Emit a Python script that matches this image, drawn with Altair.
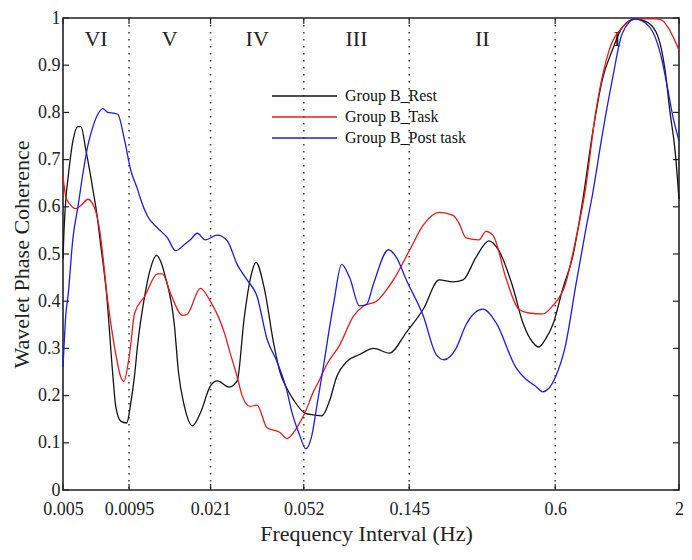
import altair as alt
import pandas as pd

series_names = ["Group B_Rest", "Group B_Task", "Group B_Post task"]
series_colors = ["#141414", "#f01818", "#1c1ce6"]

rest_freq = [0.005, 0.00505, 0.005147, 0.005248, 0.005508, 0.005781, 0.005952, 0.006247, 0.006685, 0.007016,
             0.007154, 0.007655, 0.008113, 0.008352, 0.008766, 0.00929, 0.009657, 0.01004, 0.01033, 0.01106,
             0.01172, 0.01242, 0.01291, 0.01342, 0.01478, 0.01537, 0.01629, 0.0176, 0.01902, 0.02095,
             0.02242, 0.02518, 0.0272, 0.02911, 0.03085, 0.0327, 0.03533, 0.03892, 0.04125, 0.04414,
             0.04723, 0.05254, 0.05732, 0.06194, 0.06692, 0.07161, 0.07889, 0.08947, 0.1025, 0.1196,
             0.141, 0.1662, 0.1941, 0.2222, 0.2448, 0.2776, 0.3149, 0.3469, 0.3972, 0.4376,
             0.482, 0.5109, 0.5467, 0.5907, 0.6445, 0.71, 0.7821, 0.8616, 0.9492, 1.046,
             1.152, 1.306, 1.481, 1.632, 1.746, 1.833, 1.924, 2.0]
rest_coh = [0.49, 0.55, 0.62, 0.66, 0.74, 0.77, 0.77, 0.72, 0.637, 0.57,
            0.534, 0.41, 0.245, 0.177, 0.146, 0.142, 0.183, 0.245, 0.307, 0.41,
            0.47, 0.497, 0.485, 0.458, 0.348, 0.25, 0.177, 0.136, 0.163, 0.22,
            0.231, 0.218, 0.231, 0.363, 0.445, 0.482, 0.43, 0.307, 0.25, 0.215,
            0.19, 0.163, 0.159, 0.157, 0.19, 0.24, 0.272, 0.287, 0.30, 0.29,
            0.334, 0.383, 0.445, 0.441, 0.445, 0.493, 0.528, 0.507, 0.43, 0.355,
            0.313, 0.303, 0.32, 0.355, 0.425, 0.493, 0.61, 0.754, 0.87, 0.932,
            0.98, 0.998, 0.99, 0.96, 0.89, 0.80, 0.72, 0.616]

task_freq = [0.005, 0.005147, 0.005351, 0.00567, 0.006009, 0.006369, 0.006816, 0.007154, 0.007729, 0.008272,
             0.008766, 0.009024, 0.009564, 0.01004, 0.01106, 0.01254, 0.01316, 0.01422, 0.01598, 0.01677,
             0.01902, 0.02095, 0.02399, 0.02542, 0.0272, 0.02855, 0.03085, 0.03302, 0.03637, 0.04125,
             0.04414, 0.04862, 0.05254, 0.05732, 0.06016, 0.06501, 0.07372, 0.08442, 0.093, 0.1055,
             0.1243, 0.1452, 0.1662, 0.1941, 0.2222, 0.2355, 0.252, 0.2858, 0.3059, 0.3273,
             0.3712, 0.421, 0.4637, 0.531, 0.585, 0.6634, 0.7309, 0.8051, 0.887, 1.006,
             1.152, 1.332, 1.585, 1.696, 1.798, 2.0]
task_coh = [0.664, 0.62, 0.605, 0.596, 0.605, 0.616, 0.596, 0.548, 0.40, 0.30,
            0.24, 0.23, 0.29, 0.375, 0.41, 0.458, 0.458, 0.417, 0.37, 0.373,
            0.427, 0.40, 0.334, 0.29, 0.24, 0.20, 0.177, 0.18, 0.132, 0.122,
            0.109, 0.132, 0.163, 0.21, 0.23, 0.266, 0.307, 0.369, 0.39, 0.40,
            0.445, 0.507, 0.561, 0.588, 0.582, 0.565, 0.534, 0.53, 0.548, 0.54,
            0.45, 0.383, 0.375, 0.373, 0.39, 0.437, 0.528, 0.637, 0.796, 0.926,
            0.98, 0.998, 0.998, 0.995, 0.98, 0.932]

post_freq = [0.005, 0.005147, 0.005248, 0.005508, 0.005781, 0.006068, 0.006369, 0.006557, 0.007016, 0.007364,
             0.007729, 0.008272, 0.008515, 0.009112, 0.009657, 0.01033, 0.01064, 0.01138, 0.01254, 0.01382,
             0.01493, 0.01629, 0.01726, 0.01847, 0.01996, 0.02242, 0.0247, 0.0272, 0.02997, 0.03302,
             0.03637, 0.04007, 0.04414, 0.04633, 0.05006, 0.05305, 0.05622, 0.05901, 0.06194, 0.06956,
             0.07516, 0.08122, 0.08947, 0.09574, 0.1025, 0.1185, 0.128, 0.141, 0.1662, 0.1885,
             0.2037, 0.2288, 0.252, 0.2971, 0.3369, 0.4089, 0.4505, 0.4962, 0.531, 0.5628,
             0.6022, 0.6634, 0.7309, 0.8051, 0.8616, 0.9492, 1.046, 1.152, 1.306, 1.439,
             1.585, 1.696, 1.781, 1.887, 2.0]
post_coh = [0.26, 0.375, 0.41, 0.534, 0.60, 0.67, 0.73, 0.755, 0.796, 0.808,
            0.80, 0.798, 0.796, 0.74, 0.678, 0.637, 0.616, 0.58, 0.555, 0.534,
            0.507, 0.52, 0.53, 0.544, 0.53, 0.54, 0.528, 0.478, 0.445, 0.41,
            0.32, 0.272, 0.21, 0.165, 0.115, 0.087, 0.115, 0.177, 0.24, 0.396,
            0.478, 0.45, 0.39, 0.393, 0.437, 0.509, 0.493, 0.445, 0.369, 0.287,
            0.276, 0.30, 0.35, 0.383, 0.355, 0.26, 0.235, 0.22, 0.208, 0.215,
            0.24, 0.307, 0.43, 0.548, 0.625, 0.754, 0.87, 0.967, 0.998, 0.99,
            0.96, 0.91, 0.857, 0.79, 0.74]

x_ticks = [0.005, 0.0095, 0.021, 0.052, 0.145, 0.6, 2]
band_edges = [0.0095, 0.021, 0.052, 0.145, 0.6]
band_names = ["VI", "V", "IV", "III", "II", "I"]
band_centers = [0.006892, 0.01412, 0.03305, 0.08683, 0.295, 1.095]
y_ticks = [0, 0.1, 0.2, 0.3, 0.4, 0.5, 0.6, 0.7, 0.8, 0.9, 1]

FONT = "Liberation Serif"
W, H = 616, 472

frames = []
for name, fr, co in [(series_names[0], rest_freq, rest_coh),
                     (series_names[1], task_freq, task_coh),
                     (series_names[2], post_freq, post_coh)]:
    d = pd.DataFrame({"f": fr, "c": co})
    d["series"] = name
    frames.append(d)
df = pd.concat(frames, ignore_index=True)
df["k"] = range(len(df))

x_scale = alt.Scale(type="log", domain=[0.005, 2], nice=False, zero=False)
y_scale = alt.Scale(domain=[0, 1], nice=False, zero=False)
x_axis = alt.Axis(values=x_ticks, format="~g", labelPadding=10, labelFlush=False, labelOverlap=False,
                  title="Frequency Interval (Hz)", titleX=303, titleY=50, titleBaseline="alphabetic",
                  titleAlign="center")
y_axis = alt.Axis(values=y_ticks, format="~g", labelPadding=3, labelFlush=False, labelOverlap=False,
                  title="Wavelet Phase Coherence", titleX=-35, titleY=H / 2, titleAngle=-90,
                  titleBaseline="alphabetic", titleAlign="center")
x_enc = alt.X("f:Q", scale=x_scale, axis=x_axis)
y_enc = alt.Y("c:Q", scale=y_scale, axis=y_axis)
color_enc = alt.Color("series:N", scale=alt.Scale(domain=series_names, range=series_colors), legend=None)

lines = alt.Chart(df).mark_line(strokeWidth=1.3, interpolate="monotone").encode(
    x=x_enc, y=y_enc, color=color_enc, order="k:Q")

edges_df = pd.DataFrame({"f": band_edges})
dotted = alt.Chart(edges_df).mark_rule(color="#444", strokeWidth=1.6, strokeDash=[1.6, 5.4]).encode(
    x=x_enc, y=alt.value(0), y2=alt.value(H))

xt_df = pd.DataFrame({"f": x_ticks})
xt_bottom = alt.Chart(xt_df).mark_rule(color="#222", strokeWidth=1.2).encode(
    x=x_enc, y=alt.value(H), y2=alt.value(H - 6))
xt_top = alt.Chart(xt_df).mark_rule(color="#222", strokeWidth=1.2).encode(
    x=x_enc, y=alt.value(0), y2=alt.value(6))

yt_df = pd.DataFrame({"c": y_ticks})
yt_left = alt.Chart(yt_df).mark_rule(color="#222", strokeWidth=1.2).encode(
    y=y_enc, x=alt.value(0), x2=alt.value(6))
yt_right = alt.Chart(yt_df).mark_rule(color="#222", strokeWidth=1.2).encode(
    y=y_enc, x=alt.value(W), x2=alt.value(W - 6))

bands_df = pd.DataFrame({"f": band_centers, "name": band_names})
band_text = alt.Chart(bands_df).mark_text(font=FONT, fontSize=22, color="#222", baseline="middle",
                                          align="center").encode(
    x=x_enc, y=alt.value(21), text="name:N")

main = alt.layer(dotted, xt_bottom, xt_top, yt_left, yt_right, band_text, lines)

leg_df = pd.DataFrame({"series": series_names})
leg_y = alt.Y("series:N", scale=alt.Scale(type="point", domain=series_names, range=[78, 120], padding=0),
              axis=None)
leg_rule = alt.Chart(leg_df).mark_rule(strokeWidth=1.3).encode(
    x=alt.value(209), x2=alt.value(274), y=leg_y, color=color_enc)
leg_text = alt.Chart(leg_df).mark_text(font=FONT, fontSize=16, color="#111", align="left",
                                       baseline="middle").encode(
    x=alt.value(282), y=leg_y, text="series:N")
legend = alt.layer(leg_rule, leg_text)

chart = alt.layer(main, legend).resolve_scale(y="independent").properties(
    width=W, height=H,
    padding={"left": 55, "top": 10, "right": 5, "bottom": 56},
    autosize=alt.AutoSizeParams(type="none"),
).configure_view(stroke="#222", strokeWidth=1.6).configure_axis(
    labelFont=FONT, labelFontSize=18, labelColor="#222",
    titleFont=FONT, titleFontSize=22, titleFontWeight="normal", titleColor="#222",
    domain=False, ticks=False, tickSize=0, grid=False,
)

chart.save("out.html", embed_options={"renderer": "svg", "actions": False})
